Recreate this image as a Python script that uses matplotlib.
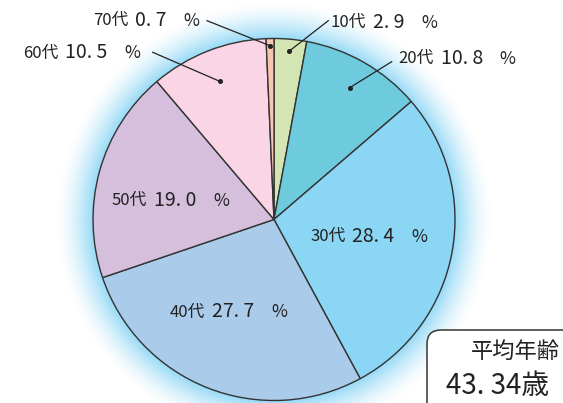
import numpy as np
import matplotlib
matplotlib.use("Agg")
import matplotlib.pyplot as plt
from matplotlib.patches import FancyBboxPatch

plt.rcParams['font.family'] = ['Noto Sans CJK JP', 'DejaVu Sans']

# Age-group shares (%)
categories = ["10代", "20代", "30代", "40代", "50代", "60代", "70代"]
shares = [2.9, 10.8, 28.4, 27.7, 19.0, 10.5, 0.7]
avg_label = "平均年齢"
avg_age = 43.34

colors = ["#d2e5b3", "#6ecbdd", "#8ad6f4", "#abcbea", "#d5bfdc", "#f9d5e6", "#f8c6ae"]

W, H = 563, 403
fig = plt.figure(figsize=(W / 100, H / 100), dpi=100)
ax = fig.add_axes([0, 0, 1, 1])
ax.set_xlim(0, W)
ax.set_ylim(0, H)
ax.set_aspect('equal')
ax.axis('off')

def py(y):
    # convert a top-down pixel row to axes y
    return H - y

cx, cy, R = 274.0, py(219.5), 181.0

# soft blue halo behind the pie
yy, xx = np.mgrid[0:H, 0:W]
d = np.hypot(xx + 0.5 - cx, (H - yy - 0.5) - cy)
t = np.clip(1 - (d - R) / 38.0, 0, 1) ** 1.6
halo = np.ones((H, W, 4))
halo[..., 0] = 0.52
halo[..., 1] = 0.83
halo[..., 2] = 0.96
halo[..., 3] = t * 0.85
ax.imshow(halo, extent=(0, W, 0, H), origin='upper', zorder=0, interpolation='bilinear')

wedges, _ = ax.pie(shares, colors=colors, startangle=90, counterclock=False,
                   center=(cx, cy), radius=R, frame=True,
                   wedgeprops=dict(edgecolor="#333333", linewidth=1.0))
for w in wedges:
    w.set_zorder(2)
ax.set_xlim(0, W)
ax.set_ylim(0, H)
ax.axis('off')

# label anchors (left x, centre y) in pixel rows from the top
label_pos = {
    "10代": (330.7, 22.3),
    "20代": (398.3, 58.3),
    "30代": (310.0, 236.0),
    "40代": (170.0, 311.7),
    "50代": (111.7, 200.0),
    "60代": (22.7, 53.0),
    "70代": (93.0, 20.0),
}
# leader lines: text-side end and dot radius fraction
leaders = {
    "10代": ((328.3, 20.7), 0.935),
    "20代": ((391.7, 61.7), 0.84),
    "60代": ((152.7, 52.3), 0.82),
    "70代": ((207.0, 20.7), 0.96),
}

renderer = fig.canvas.get_renderer()

def width_px(txt):
    bb = txt.get_window_extent(renderer=renderer)
    return bb.width

txt_color = "#222222"
for w, cat, v in zip(wedges, categories, shares):
    lx, ly = label_pos[cat]
    t1 = ax.text(lx, py(ly) - 0.5, cat, fontsize=12, color=txt_color,
                 ha='left', va='center', zorder=5)
    x2 = lx + width_px(t1) + 7
    t2 = ax.text(x2, py(ly), f"{v:.1f}".replace(".", ". "), fontsize=14,
                 color=txt_color, ha='left', va='center', zorder=5)
    x3 = x2 + width_px(t2) + 17
    ax.text(x3, py(ly) - 0.5, "%", fontsize=12.5, color=txt_color,
            ha='left', va='center', zorder=5)
    if cat in leaders:
        (ex, ey), frac = leaders[cat]
        mid = np.deg2rad((w.theta1 + w.theta2) / 2)
        dx = cx + frac * R * np.cos(mid)
        dy = cy + frac * R * np.sin(mid)
        ax.plot([ex, dx], [py(ey), dy], color=txt_color, lw=0.9, zorder=4)
        ax.plot([dx], [dy], 'o', color=txt_color, ms=2.6, zorder=4)

# average-age box in the lower right corner
box = FancyBboxPatch((427, py(420)), 160, 90,
                     boxstyle="round,pad=0,rounding_size=14",
                     facecolor="white", edgecolor="#444444", linewidth=1.2,
                     zorder=6, clip_on=False)
ax.add_patch(box)
ax.text(471, py(351), avg_label, fontsize=16, color=txt_color,
        ha='left', va='center', zorder=7)
ax.text(446, py(386), f"{avg_age:.2f}".replace(".", ". ") + "歳", fontsize=20,
        color=txt_color, ha='left', va='center', zorder=7)

fig.savefig("out.png", dpi=100)
